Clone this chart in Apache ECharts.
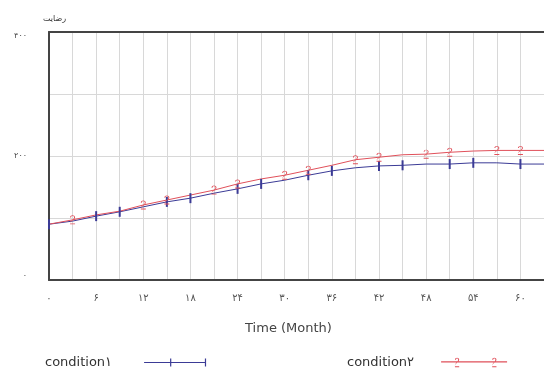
<!DOCTYPE html>
<html lang="fa">
<head>
    <meta charset="UTF-8">
    <title>condition</title>
    <script type="text/javascript" src="https://cdn.jsdelivr.net/npm/echarts@6/dist/echarts.min.js"></script>
</head>
<body style="margin:0;background:#fff">
<div id="main" style="width: 544px; height: 387px"></div>

<script type="text/javascript">
    // months (every 3 months)
    var months = [0, 3, 6, 9, 12, 15, 18, 21, 24, 27, 30, 33, 36, 39, 42, 45, 48, 51, 54, 57, 60, 63];
    var condition1 = [90, 95, 103, 110, 118, 126, 132, 140, 147, 155, 161, 169, 176, 181, 184, 185, 187, 187, 189, 189, 187, 187];
    var condition2 = [90, 97, 105, 111, 121, 129, 137, 145, 155, 163, 169, 177, 185, 194, 198, 202, 203, 206, 208, 209, 209, 209];
    // points where the markers are drawn
    var marks1 = [0, 6, 9, 15, 18, 24, 27, 33, 36, 42, 45, 51, 54, 60];
    var marks2 = [3, 12, 15, 21, 24, 30, 33, 39, 42, 48, 51, 57, 60];
    // tick labels
    var xTickLabels = {0: '۰', 6: '۶', 12: '۱۲', 18: '۱۸', 24: '۲۴', 30: '۳۰', 36: '۳۶', 42: '۴۲', 48: '۴۸', 54: '۵۴', 60: '۶۰'};
    var yTickLabels = {0: '۰', 200: '۲۰۰', 400: '۴۰۰'};

    var tickPath = 'path://M0,0 L2,0 L2,10 L0,10 Z';
    var twoPath = 'path://M0,3 C0,0 5,0 5,3 C5,5 0,7 0,9 L5,9 L5,10 L0,10 L0,9 C0,6 4,5 4,3 C4,1 1,1 1,3 Z';
    // legend samples: line with markers
    var legendIcon1 = 'path://M0,4.5 L62,4.5 L62,5.5 L0,5.5 Z M26,1 L27.2,1 L27.2,9 L26,9 Z M60.8,1 L62,1 L62,9 L60.8,9 Z';
    var legendIcon2 = 'path://M0,4.5 L62,4.5 L62,5.5 L0,5.5 Z ' +
        'M13,3 C13,0.5 17,0.5 17,3 C17,5 13,6.5 13,9 L17,9 L17,10 L13,10 L13,9 C13,6 16,5 16,3 C16,1.5 14,1.5 14,3 Z ' +
        'M48,3 C48,0.5 52,0.5 52,3 C52,5 48,6.5 48,9 L52,9 L52,10 L48,10 L48,9 C48,6 51,5 51,3 C51,1.5 49,1.5 49,3 Z';

    function build(vals, marks, sym) {
        var out = [];
        for (var i = 0; i < months.length; i++) {
            out.push({
                value: [months[i], vals[i]],
                symbol: marks.indexOf(months[i]) >= 0 ? sym : 'none'
            });
        }
        return out;
    }

    var myChart = echarts.init(document.getElementById('main'));

    var option = {
        animation: false,
        textStyle: {fontFamily: 'DejaVu Sans, Liberation Sans, sans-serif'},
        title: {
            text: 'رضایت',
            left: 38,
            top: 10,
            textStyle: {fontSize: 8, fontWeight: 'normal', color: '#333'}
        },
        grid: {
            left: 49, right: 0, top: 32, bottom: 107
        },
        xAxis: [{
            type: 'value',
            min: 0, max: 63, interval: 3,
            name: 'Time (Month)',
            nameLocation: 'middle',
            nameGap: 42,
            nameTextStyle: {fontSize: 13, color: '#444', padding: [0, 16, 0, 0]},
            axisLine: {show: true, lineStyle: {color: '#444', width: 2}},
            axisTick: {show: false},
            axisLabel: {
                margin: 13, fontSize: 10, color: '#555',
                showMaxLabel: false,
                formatter: function (v) { return xTickLabels[v] || ''; }
            },
            splitLine: {show: true, lineStyle: {color: '#d8d8d8', width: 1}}
        }, {
            // top frame line only
            type: 'value',
            position: 'top',
            min: 0, max: 63,
            axisLine: {show: true, lineStyle: {color: '#444', width: 2}},
            axisTick: {show: false},
            axisLabel: {show: false},
            splitLine: {show: false}
        }],
        yAxis: {
            type: 'value',
            min: 0, max: 400, interval: 100,
            axisLine: {show: true, lineStyle: {color: '#444', width: 2}},
            axisTick: {show: false},
            axisLabel: {
                margin: 22, fontSize: 8, color: '#444',
                verticalAlignMinLabel: 'bottom',
                verticalAlignMaxLabel: 'top',
                formatter: function (v) { return yTickLabels[v] || ''; }
            },
            splitLine: {show: true, lineStyle: {color: '#d8d8d8', width: 1}}
        },
        legend: [{
            data: [{name: 'condition۱', icon: legendIcon1}],
            left: 40, top: 351,
            align: 'right',
            itemWidth: 62, itemHeight: 10,
            textStyle: {fontSize: 13, color: '#333', padding: [0, 27, 0, 0]}
        }, {
            data: [{name: 'condition۲', icon: legendIcon2}],
            left: 342, top: 351,
            align: 'right',
            itemWidth: 66, itemHeight: 10,
            textStyle: {fontSize: 13, color: '#333', padding: [0, 22, 0, 0]}
        }],
        series: [{
            name: 'condition۱',
            type: 'line',
            data: build(condition1, marks1, tickPath),
            symbol: tickPath,
            symbolSize: [2, 10],
            lineStyle: {color: '#3b3b96', width: 1},
            itemStyle: {color: '#3b3b96'}
        }, {
            name: 'condition۲',
            type: 'line',
            data: build(condition2, marks2, twoPath),
            symbol: twoPath,
            symbolSize: [5, 9],
            lineStyle: {color: '#e0505a', width: 1},
            itemStyle: {color: '#e0505a'}
        }]
    };

    myChart.setOption(option);
</script>
</body>
</html>
